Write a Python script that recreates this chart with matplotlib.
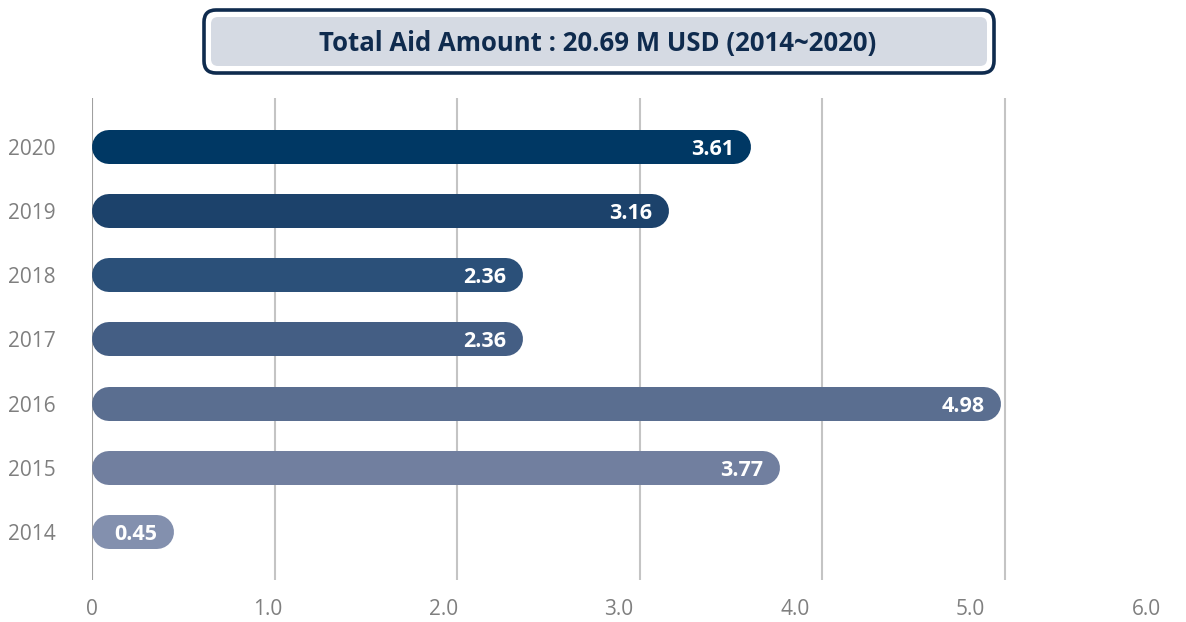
import matplotlib
matplotlib.use('Agg')
import matplotlib.pyplot as plt
from matplotlib.patches import FancyBboxPatch

years = ['2014', '2015', '2016', '2017', '2018', '2019', '2020']
amounts = [0.45, 3.77, 4.98, 2.36, 2.36, 3.16, 3.61]
bar_colors = ['#8390ae', '#717f9f', '#5a6e90', '#445e84', '#2b5079', '#1c426b', '#003864']
tick_values = [0, 1, 2, 3, 4, 5, 6]
tick_labels = ['0', '1.0', '2.0', '3.0', '4.0', '5.0', '6.0']
grid_values = [1, 2, 3, 4, 5]
title_text = 'Total Aid Amount : 20.69 M USD (2014~2020)'

W, H, DPI = 1186, 622, 100
fig = plt.figure(figsize=(W / DPI, H / DPI), dpi=DPI)
fig.patch.set_facecolor('white')

# main axes: left edge at x=0, one unit ~182.6 px
left, right = 92, 1186
top, bottom = 98, 580
ax = fig.add_axes([left / W, 1 - bottom / H, (right - left) / W, (bottom - top) / H])
px_per_unit = 182.6
ax.set_xlim(0, (right - left) / px_per_unit)
row_px = 64.17
ax.set_ylim(-(bottom - 532) / row_px, 6 + (147 - top) / row_px)

for g in grid_values:
    ax.axvline(g, color='#c4c4c4', lw=1.5, zorder=0)
ax.axvline(0, color='#a0a0a0', lw=1.5, zorder=0)

bar_px = 34
lw_pt = bar_px * 72 / DPI
r = (bar_px / 2) / px_per_unit
for i, (v, c) in enumerate(zip(amounts, bar_colors)):
    ax.plot([r, v - r], [i, i], color=c, lw=lw_pt, solid_capstyle='round', zorder=2)
    ax.text(v - r, i, f'{v:.2f}', color='white', fontsize=15.5, fontweight='bold',
            family='Open Sans', ha='right', va='center_baseline', zorder=3)

ax.set_yticks(range(len(years)))
ax.set_yticklabels(years, fontsize=15, color='#7f7f7f', family='Open Sans')
ax.tick_params(axis='y', length=0, pad=26)

# tick labels in the source are spread a bit tighter than the grid
label_scale = 0.962
ax.set_xticks([t * label_scale for t in tick_values])
ax.set_xticklabels(tick_labels, fontsize=15, color='#7f7f7f', family='Open Sans')
ax.tick_params(axis='x', length=0, pad=14)
for s in ax.spines.values():
    s.set_visible(False)

# title box, in pixel coordinates
ov = fig.add_axes([0, 0, 1, 1], zorder=5)
ov.set_xlim(0, W)
ov.set_ylim(H, 0)
ov.axis('off')
ov.patch.set_alpha(0)
ov.add_patch(FancyBboxPatch((204, 10), 790, 63, boxstyle='round,pad=0,rounding_size=12',
                            facecolor='white', edgecolor='#0f2b4e', lw=2.6))
ov.add_patch(FancyBboxPatch((211, 17), 776, 49, boxstyle='round,pad=0,rounding_size=7',
                            facecolor='#d5dae3', edgecolor='none'))
ov.text(598, 43, title_text, fontsize=18.5, fontweight='bold', color='#0f2b4e',
        family='Open Sans', ha='center', va='center')

fig.savefig('out.png', dpi=DPI)
